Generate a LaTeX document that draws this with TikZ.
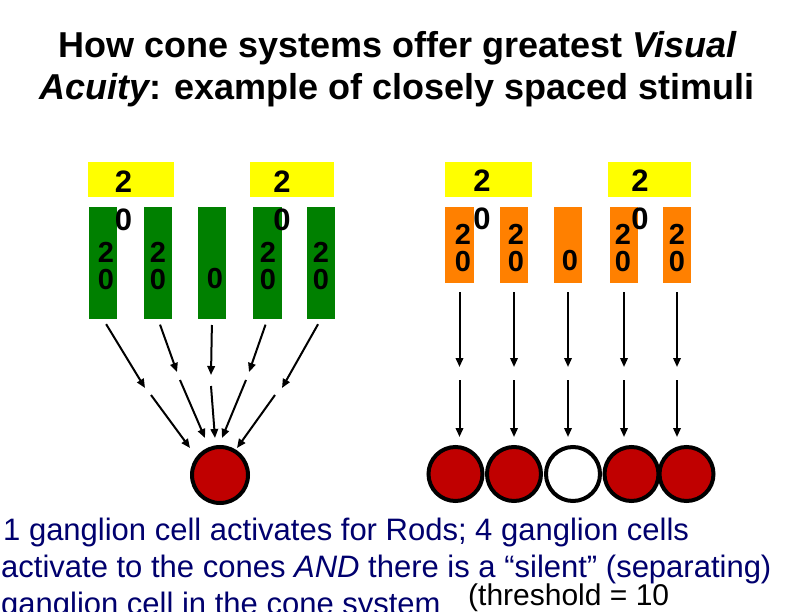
\documentclass[tikz,border=0pt]{standalone}
\usepackage{fontspec}
\setmainfont{Liberation Sans}
\usetikzlibrary{arrows.meta}
\definecolor{ybox}{RGB}{255,255,0}
\definecolor{cgreen}{RGB}{0,128,0}
\definecolor{corange}{RGB}{255,128,0}
\definecolor{gred}{RGB}{192,0,0}
\definecolor{navytext}{RGB}{0,0,110}
\begin{document}
\begin{tikzpicture}[x=1pt,y=-1pt,
  recbox/.style={rectangle, draw=none, inner sep=0pt, outer sep=0pt},
  yel/.style={recbox, fill=ybox, minimum height=35pt},
  grn/.style={recbox, fill=cgreen, minimum height=112pt},
  org/.style={recbox, fill=corange, minimum height=76pt},
  dig/.style={inner sep=0pt, align=center, font=\fontsize{31}{37.5}\selectfont\bfseries},
  digs/.style={inner sep=0pt, align=center, font=\fontsize{29}{26.5}\selectfont\bfseries},
  gcell/.style={circle, draw=black, line width=4pt, fill=gred, inner sep=0pt},
  arr/.style={draw=black, line width=2pt, -{Triangle[length=9pt,width=7.5pt]}},
  ttl/.style={anchor=base, inner sep=0pt, font=\fontsize{36}{43}\selectfont\bfseries},
  body/.style={anchor=base west, inner sep=0pt, text=navytext, font=\fontsize{31}{37}\selectfont}
]
\useasboundingbox (0,0) rectangle (792,612);
\fill[white] (0,0) rectangle (792,612);

% title
\node[ttl] (t1) at (397.5,58) {How cone systems offer greatest {\itshape Visual}};
\node[ttl] (t2) at (397,100) {{\itshape Acuity}: example of closely spaced stimuli};

% left (rod) system
\node[yel, minimum width=86pt] (Y1) at (131,179.5) {};
\node[yel, minimum width=84pt] (Y2) at (292,179.5) {};
\node[grn, minimum width=28pt] (G1) at (103,263) {};
\node[grn, minimum width=28pt] (G2) at (158,263) {};
\node[grn, minimum width=28pt] (G3) at (212,263) {};
\node[grn, minimum width=29pt] (G4) at (267.5,263) {};
\node[grn, minimum width=28pt] (G5) at (321,263) {};
\node[dig] (ty1) at (123.5,201) {2\\0};
\node[dig] (ty2) at (282,201) {2\\0};
\node[digs] (tg1) at (106,266) {2\\0};
\node[digs] (tg2) at (158,266) {2\\0};
\node[digs] (tg3) at (215,279) {0};
\node[digs] (tg4) at (268,266) {2\\0};
\node[digs] (tg5) at (321,266) {2\\0};

% right (cone) system
\node[yel, minimum width=87pt] (Y3) at (488.5,179.5) {};
\node[yel, minimum width=83pt] (Y4) at (649.5,179.5) {};
\node[org, minimum width=29pt] (O1) at (459.5,245) {};
\node[org, minimum width=28pt] (O2) at (514,245) {};
\node[org, minimum width=28pt] (O3) at (568,245) {};
\node[org, minimum width=28pt] (O4) at (624,245) {};
\node[org, minimum width=28pt] (O5) at (677,245) {};
\node[dig] (ty3) at (482,200) {2\\0};
\node[dig] (ty4) at (640,200) {2\\0};
\node[digs] (to1) at (463,248) {2\\0};
\node[digs] (to2) at (516,248) {2\\0};
\node[digs] (to3) at (570,260.5) {0};
\node[digs] (to4) at (623,248) {2\\0};
\node[digs] (to5) at (677,248) {2\\0};

% ganglion cells
\node[gcell, minimum size=56pt] (L) at (220,475) {};
\node[gcell, minimum size=54pt] (R1) at (455.5,474) {};
\node[gcell, minimum size=54pt] (R2) at (514,474) {};
\node[gcell, minimum size=54pt, fill=white] (R3) at (573,474) {};
\node[gcell, minimum size=54pt] (R4) at (631.5,474) {};
\node[gcell, minimum size=54pt] (R5) at (686.5,474) {};

% left converging arrows
\coordinate (a1m) at (145,388); \coordinate (a1n) at (151,395); \coordinate (a1e) at (190,448);
\coordinate (a2m) at (177,372); \coordinate (a2n) at (180,380); \coordinate (a2e) at (205,438);
\coordinate (a3m) at (211,375); \coordinate (a3n) at (211,386); \coordinate (a3e) at (215,438);
\coordinate (a4m) at (249,372); \coordinate (a4n) at (246,380); \coordinate (a4e) at (222,438);
\coordinate (a5m) at (282,388); \coordinate (a5n) at (275,395); \coordinate (a5e) at (237,448);
\draw[arr, shorten <=6pt] (G1.south) -- (a1m);
\draw[arr] (a1n) -- (a1e);
\draw[arr, shorten <=6pt] (G2.south) -- (a2m);
\draw[arr] (a2n) -- (a2e);
\draw[arr, shorten <=6pt] (G3.south) -- (a3m);
\draw[arr] (a3n) -- (a3e);
\draw[arr, shorten <=6pt] (G4.south) -- (a4m);
\draw[arr] (a4n) -- (a4e);
\draw[arr, shorten <=6pt] (G5.south) -- (a5m);
\draw[arr] (a5n) -- (a5e);

% right parallel arrows
\coordinate (b1m) at (459.5,367); \coordinate (b1n) at (459.5,380); \coordinate (b1e) at (459.5,437);
\coordinate (b2m) at (514,367);   \coordinate (b2n) at (514,380);   \coordinate (b2e) at (514,437);
\coordinate (b3m) at (568,367);   \coordinate (b3n) at (568,380);   \coordinate (b3e) at (568,437);
\coordinate (b4m) at (624,367);   \coordinate (b4n) at (624,380);   \coordinate (b4e) at (624,437);
\coordinate (b5m) at (677,367);   \coordinate (b5n) at (677,380);   \coordinate (b5e) at (677,437);
\draw[arr, shorten <=9pt] (O1.south) -- (b1m);
\draw[arr] (b1n) -- (b1e);
\draw[arr, shorten <=9pt] (O2.south) -- (b2m);
\draw[arr] (b2n) -- (b2e);
\draw[arr, shorten <=9pt] (O3.south) -- (b3m);
\draw[arr] (b3n) -- (b3e);
\draw[arr, shorten <=9pt] (O4.south) -- (b4m);
\draw[arr] (b4n) -- (b4e);
\draw[arr, shorten <=9pt] (O5.south) -- (b5m);
\draw[arr] (b5n) -- (b5e);

% bottom text
\node[body] (l1) at (3,540) {1 ganglion cell activates for Rods; 4 ganglion cells};
\node[body] (l2) at (1,577) {activate to the cones {\itshape AND} there is a “silent” (separating)};
\node[body] (l3) at (1,614) {ganglion cell in the cone system};
\node[anchor=base west, inner sep=0pt, font=\fontsize{30}{35}\selectfont] (thr) at (468,605) {(threshold = 10};
\end{tikzpicture}
\end{document}
